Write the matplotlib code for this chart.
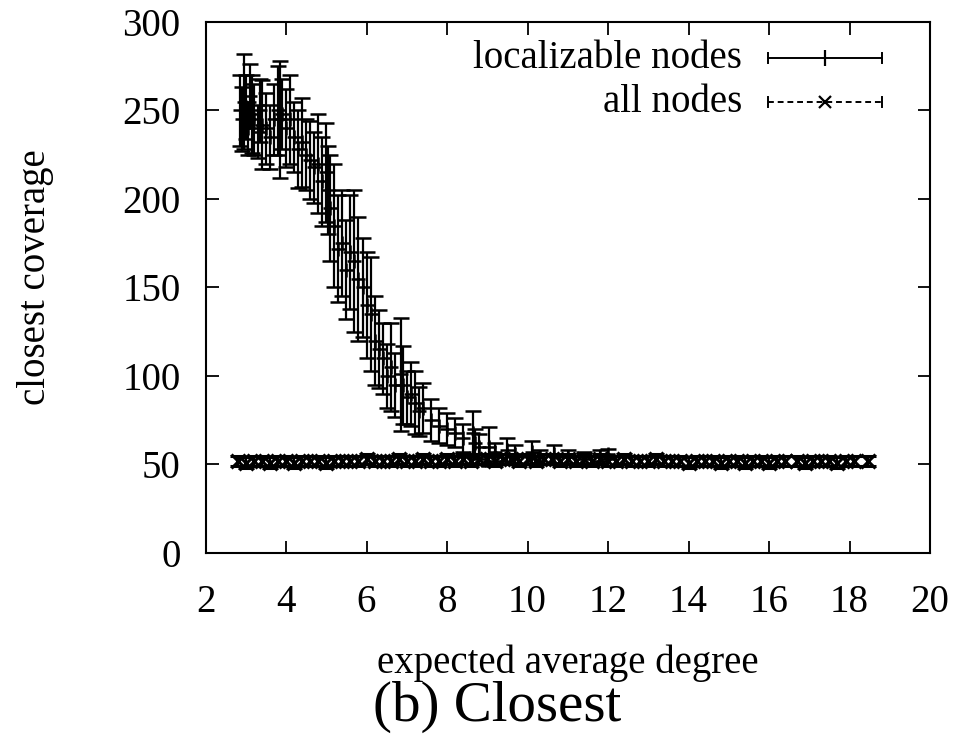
import matplotlib.pyplot as plt
from matplotlib.lines import Line2D

# ============== Daten ==============
# localizable nodes: x, Mittelwert, Fehler
loc_x = [2.85, 2.9, 2.95, 3.0, 3.05, 3.1, 3.15, 3.2, 3.3, 3.35, 3.4, 3.5, 3.6, 3.7,
         3.8, 3.85, 3.9, 4.0, 4.1, 4.2, 4.3, 4.4, 4.5, 4.6, 4.7, 4.8, 4.9, 5.0,
         5.05, 5.1, 5.2, 5.3, 5.4, 5.5, 5.6, 5.7, 5.8, 5.9, 6.0, 6.1, 6.2, 6.3,
         6.4, 6.5, 6.6, 6.7, 6.85, 6.9, 7.0, 7.1, 7.2, 7.3, 7.4, 7.6, 7.8, 8.0,
         8.2, 8.4, 8.65, 8.7, 8.8, 9.05, 9.2, 9.5, 9.7, 10.1, 10.3, 10.65, 11.0,
         11.4, 11.8, 12.0]
loc_y = [250, 245, 255, 252, 240, 258, 248, 245, 238, 250, 242, 240, 235, 245,
         250, 245, 248, 240, 245, 235, 228, 232, 225, 222, 218, 220, 210, 215,
         205, 195, 185, 172, 175, 160, 170, 165, 155, 150, 140, 135, 120, 115,
         110, 100, 105, 95, 101, 95, 88, 90, 85, 80, 82, 75, 72, 70,
         68, 65, 68, 62, 60, 60, 57, 58, 56, 57, 54, 56, 54,
         53, 55, 56]
loc_err = [20, 18, 27, 18, 15, 18, 22, 20, 15, 18, 25, 20, 18, 20,
           25, 33, 20, 22, 25, 20, 22, 25, 20, 22, 20, 28, 25, 28,
           25, 30, 35, 30, 30, 28, 32, 40, 35, 28, 30, 32, 25, 22,
           20, 18, 25, 18, 32, 22, 15, 18, 18, 14, 14, 12, 10, 9,
           8, 8, 12, 8, 7, 11, 5, 7, 5, 6, 4, 5, 4,
           4, 3, 3]

# all nodes: x, Mittelwert, Fehler
all_x = [2.8, 3.0, 3.2, 3.4, 3.6, 3.8, 4.0, 4.2, 4.4, 4.6, 4.8, 5.0, 5.2, 5.4,
         5.6, 5.8, 6.0, 6.2, 6.4, 6.6, 6.8, 7.0, 7.2, 7.4, 7.6, 7.8, 8.0, 8.2,
         8.4, 8.6, 8.8, 9.0, 9.2, 9.4, 9.6, 9.8, 10.0, 10.2, 10.4, 10.6, 10.8,
         11.0, 11.2, 11.4, 11.6, 11.8, 12.0, 12.2, 12.4, 12.6, 12.8, 13.0, 13.2,
         13.4, 13.6, 13.8, 14.0, 14.2, 14.4, 14.6, 14.8, 15.0, 15.2, 15.4, 15.6,
         15.8, 16.0, 16.2, 16.4, 16.7, 16.9, 17.1, 17.3, 17.5, 17.7, 17.9, 18.1,
         18.45]
all_y = [52, 51, 52, 52, 51, 52, 52, 51, 52, 52, 52, 51, 52, 52,
         52, 52, 53, 52, 52, 52, 53, 52, 52, 53, 52, 52, 53, 52,
         53, 52, 53, 53, 52, 53, 53, 52, 53, 52, 53, 53, 52,
         53, 52, 53, 52, 53, 52, 52, 53, 52, 52, 52, 53,
         52, 52, 52, 51, 52, 52, 52, 51, 52, 52, 51, 52,
         52, 51, 52, 52, 52, 51, 52, 52, 52, 51, 52, 52,
         52]
all_err = [3] * len(all_x)

# ============== Plot ==============
plt.rcParams["font.family"] = ["Liberation Serif", "DejaVu Serif"]

fig = plt.figure(figsize=(9.6, 7.38), dpi=100)
ax = fig.add_axes([0.2141, 0.2507, 0.7547, 0.7195])

ax.errorbar(all_x, all_y, yerr=all_err, fmt="x", color="black", ms=10, mew=2.2,
            elinewidth=1.6, capsize=6, capthick=1.8)
ax.errorbar(loc_x, loc_y, yerr=loc_err, fmt="+", color="black", ms=10, mew=1.8,
            elinewidth=1.6, capsize=6, capthick=1.6)

ax.set_xlim(2, 20)
ax.set_ylim(0, 300)
ax.set_xticks(range(2, 21, 2))
ax.set_yticks(range(0, 301, 50))

ax.tick_params(direction="in", length=9, width=1.3, top=True, right=True,
               labelsize=28)
ax.tick_params(axis="x", pad=22)
ax.tick_params(axis="y", pad=18)
for sp in ax.spines.values():
    sp.set_linewidth(1.5)

ax.set_xlabel("expected average degree", fontsize=28, va="center")
ax.xaxis.set_label_coords(0.5, -0.207)
ax.set_ylabel("closest coverage", fontsize=28, va="center")
ax.yaxis.set_label_coords(-0.235, 0.52)

# Legende im gnuplot-Stil
tr = ax.transAxes
ax.text(0.7405, 0.932, "localizable nodes", transform=tr, ha="right",
        va="center", fontsize=28)
ax.text(0.7405, 0.849, "all nodes", transform=tr, ha="right",
        va="center", fontsize=28)
x0, x1, xm = 0.776, 0.934, 0.855
for y, ls, mk in [(0.932, "-", "|"), (0.849, (0, (3, 2)), "x")]:
    ax.add_line(Line2D([x0, x1], [y, y], transform=tr, color="black",
                       lw=1.4, ls=ls))
    for xe in (x0, x1):
        ax.add_line(Line2D([xe, xe], [y - 0.009, y + 0.009], transform=tr,
                           color="black", lw=1.4))
    ax.add_line(Line2D([xm], [y], transform=tr, color="black", marker=mk,
                       ms=11 if mk == "|" else 9, mew=1.6, ls="none"))

fig.text(497 / 960, 1 - 707 / 738, "(b) Closest", ha="center", va="center",
         fontsize=41)

fig.savefig("out.png", dpi=100)
